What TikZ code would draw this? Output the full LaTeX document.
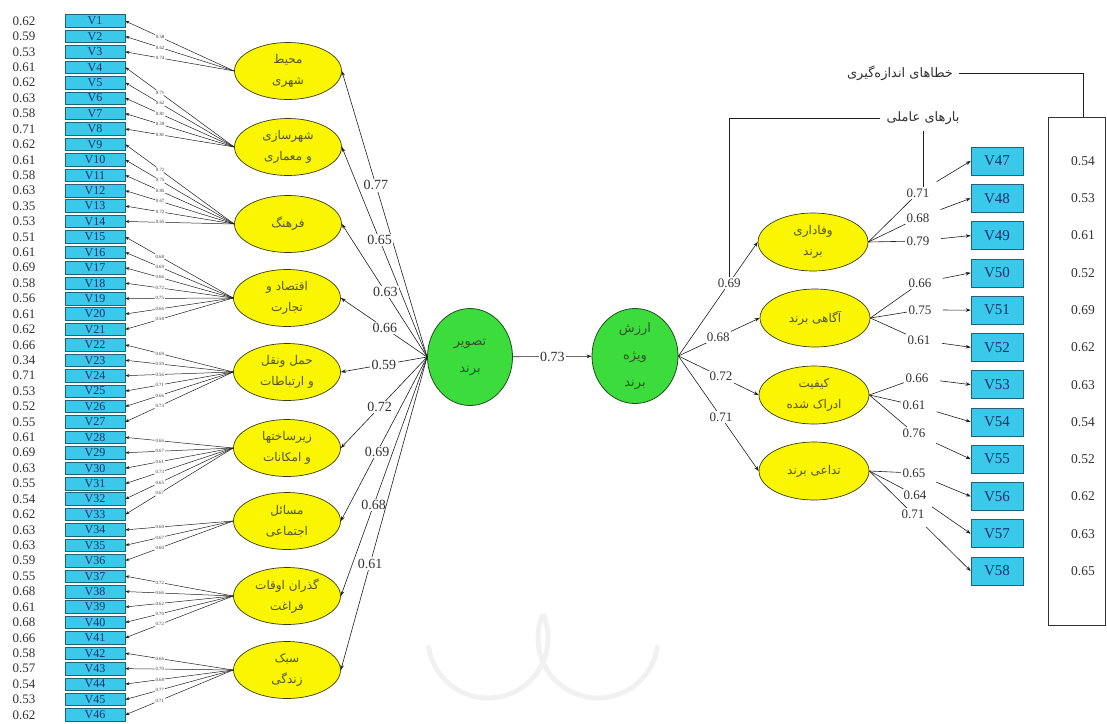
\documentclass[tikz,border=0pt]{standalone}
\usepackage{fontspec}
\setmainfont{Liberation Serif}
\newfontfamily\arabicfont[Script=Arabic]{DejaVu Sans}
\TeXXeTstate=1
\usetikzlibrary{shapes.geometric,arrows.meta,calc}
\newcommand{\fa}[1]{{\arabicfont\beginR #1\endR}}

\definecolor{boxcyan}{RGB}{58,200,235}
\definecolor{boxedge}{RGB}{30,100,120}
\definecolor{boxtext}{RGB}{20,50,110}
\definecolor{yel}{RGB}{250,245,0}
\definecolor{yeledge}{RGB}{60,60,20}
\definecolor{persiantext}{RGB}{85,85,30}
\definecolor{grn}{RGB}{60,220,60}
\definecolor{grnedge}{RGB}{30,80,30}
\definecolor{grntext}{RGB}{40,90,40}
\definecolor{linecol}{RGB}{30,30,30}
\definecolor{numcol}{RGB}{50,50,50}

\begin{document}
\begin{tikzpicture}[x=1pt,y=-1pt,
  ln/.style={draw=linecol, line width=0.6pt},
  arr/.style={ln, -{Stealth[length=5pt,width=3.6pt]}},
  sarr/.style={ln, line width=0.5pt, -{Stealth[length=4pt,width=3pt]}},
  vbox/.style={rectangle, draw=boxedge, fill=boxcyan, line width=0.6pt, minimum width=60, minimum height=12.5, inner sep=0pt, text=boxtext, font=\fontsize{12}{12}\selectfont},
  rbox/.style={vbox, minimum width=52, minimum height=28, font=\fontsize{15}{15}\selectfont},
  lerr/.style={text=numcol, inner sep=0pt, font=\fontsize{13}{13}\selectfont},
  rerr/.style={lerr, font=\fontsize{13.5}{14}\selectfont},
  lodlbl/.style={text=numcol, inner sep=0.8pt, font=\fontsize{4.8}{5}\selectfont},
  fac/.style={ellipse, draw=yeledge, fill=yel, line width=0.7pt, minimum width=107, minimum height=57, inner sep=0pt, align=center, text=persiantext, font=\fontsize{12}{21}\selectfont},
  rfac/.style={fac, minimum width=110, minimum height=58},
  gfac/.style={ellipse, draw=grnedge, fill=grn, line width=0.8pt, minimum width=85, minimum height=97, inner sep=0pt, align=center, text=grntext, font=\fontsize{13}{27}\selectfont},
  clbl/.style={fill=white, inner sep=1.5pt, text=numcol, font=\fontsize{14}{14}\selectfont},
  rlbl/.style={clbl, font=\fontsize{13}{13}\selectfont},
  toplbl/.style={fill=white, inner sep=6pt, text=numcol, font=\fontsize{13}{13}\selectfont},
]
\useasboundingbox (0,0) rectangle (1107,723);

% faint ornament in the lower middle
\begin{scope}[draw=gray!11, line width=5pt]
  \draw (543,614) arc[start angle=-23.6, end angle=173, radius=60];
  \draw (543,614) arc[start angle=203.6, end angle=7, radius=60];
\end{scope}

% observed variables V1--V46 with their error values
\foreach \i/\e in {1/0.62,2/0.59,3/0.53,4/0.61,5/0.62,6/0.63,7/0.58,8/0.71,9/0.62,10/0.61,11/0.58,12/0.63,13/0.35,14/0.53,15/0.51,16/0.61,17/0.69,18/0.58,19/0.56,20/0.61,21/0.62,22/0.66,23/0.34,24/0.71,25/0.53,26/0.52,27/0.55,28/0.61,29/0.69,30/0.63,31/0.55,32/0.54,33/0.62,34/0.63,35/0.63,36/0.59,37/0.55,38/0.68,39/0.61,40/0.68,41/0.66,42/0.58,43/0.57,44/0.54,45/0.53,46/0.62}{
  \node[vbox] (v\i) at (95,{21+(\i-1)*15.42}) {V\i};
  \node[lerr] (le\i) at (24,{21+(\i-1)*15.42}) {\e};
}

% first-order factors of brand image
\node[fac] (f1) at (288,71)  {\fa{محیط}\\\fa{شهری}};
\node[fac] (f2) at (288,147) {\fa{شهرسازی}\\\fa{و معماری}};
\node[fac] (f3) at (288,224) {\fa{فرهنگ}};
\node[fac] (f4) at (287,298) {\fa{اقتصاد و}\\\fa{تجارت}};
\node[fac] (f5) at (287,372) {\fa{حمل ونقل}\\\fa{و ارتباطات}};
\node[fac] (f6) at (287,448) {\fa{زیرساختها}\\\fa{و امکانات}};
\node[fac] (f7) at (287,521) {\fa{مسائل}\\\fa{اجتماعی}};
\node[fac] (f8) at (287,596) {\fa{گذران اوقات}\\\fa{فراغت}};
\node[fac] (f9) at (287,670) {\fa{سبک}\\\fa{زندگی}};

% second-order factors
\node[gfac] (img) at (470,357) {\fa{تصویر}\\\fa{برند}};
\node[gfac, minimum width=86, minimum height=95] (arz) at (635,356) {\fa{ارزش}\\\fa{ویژه}\\\fa{برند}};

% brand equity dimensions
\node[rfac] (r1) at (813,242) {\fa{وفاداری}\\\fa{برند}};
\node[rfac] (r2) at (815,318) {\fa{آگاهی برند}};
\node[rfac] (r3) at (814,395) {\fa{کیفیت}\\\fa{ادراک شده}};
\node[rfac] (r4) at (814,471) {\fa{تداعی برند}};

% observed variables V47--V58 with their error values
\foreach \k/\e in {47/0.54,48/0.53,49/0.61,50/0.52,51/0.69,52/0.62,53/0.63,54/0.54,55/0.52,56/0.62,57/0.63,58/0.65}{
  \node[rbox] (v\k) at (997,{161+(\k-47)*37.27}) {V\k};
  \node[rerr] (re\k) at (1083,{161+(\k-47)*37.27}) {\e};
}

% loadings of V1--V46
\foreach \f/\lst in {1/{1/0.58,2/0.62,3/0.74},
                     2/{4/0.71,5/0.62,6/0.81,7/0.59,8/0.81},
                     3/{9/0.72,10/0.75,11/0.85,12/0.67,13/0.72,14/0.65},
                     4/{15/0.68,16/0.69,17/0.66,18/0.72,19/0.75,20/0.66,21/0.58},
                     5/{22/0.69,23/0.59,24/0.56,25/0.71,26/0.66,27/0.73},
                     6/{28/0.66,29/0.67,30/0.61,31/0.73,32/0.65,33/0.67},
                     7/{34/0.60,35/0.67,36/0.60},
                     8/{37/0.72,38/0.66,39/0.62,40/0.70,41/0.72},
                     9/{42/0.66,43/0.70,44/0.68,45/0.77,46/0.71}}{
  \foreach \v/\w in \lst {
    \node[lodlbl] (t\v) at ($(v\v.east)!0.32!(f\f.west)$) {\w};
    \draw[ln, line width=0.5pt] (f\f.west) -- (t\v);
    \draw[sarr] (t\v) -- (v\v.east);
  }
}

% brand image to its factors
\foreach \i/\w/\p in {1/0.77/0.60,2/0.65/0.557,3/0.63/0.49,4/0.66/0.49,5/0.59/0.5,6/0.72/0.55,7/0.69/0.58,8/0.68/0.62,9/0.61/0.66}{
  \draw[arr] (img.west) -- node[pos=\p, clbl] {\w} (f\i.east);
}

% brand image to brand equity
\draw[arr] (img) -- node[clbl] {0.73} (arz);

% brand equity to its dimensions
\draw[arr] (arz.east) -- node[pos=0.64, rlbl] (c1) {0.69} (r1.west);
\draw[arr] (arz.east) -- node[pos=0.49, rlbl] (c2) {0.68} (r2.west);
\draw[arr] (arz.east) -- node[pos=0.53, rlbl] (c3) {0.72} (r3.west);
\draw[arr] (arz.east) -- node[pos=0.53, rlbl] (c4) {0.71} (r4.west);

% loadings of V47--V58
\foreach \r/\lst in {1/{47/0.71/918/193,48/0.68/918/218,49/0.79/918/241},
                     2/{50/0.66/920/283,51/0.75/920/310,52/0.61/919/340},
                     3/{53/0.66/917/378,54/0.61/914/405,55/0.76/914/433},
                     4/{56/0.65/914/473,57/0.64/915/495,58/0.71/913/514}}{
  \foreach \v/\w/\px/\py in \lst {
    \node[rlbl] (t\v) at (\px,\py) {\w};
    \draw[ln] (r\r.east) -- (t\v);
    \draw[arr, shorten <=10pt] (t\v) -- (v\v.west);
  }
}

% frame round the measurement errors and the callouts
\node[draw=numcol, line width=0.8pt, minimum width=57, minimum height=508, inner sep=0pt] (errbox) at (1076.5,371) {};
\coordinate (errtick) at ($(errbox.north west)!0.61!(errbox.north east)$);
\node[toplbl] (errlabel) at (900,73) {\fa{خطاهای اندازه‌گیری}};
\draw[ln] (errlabel.east) -| (errtick);

\node[toplbl] (loadlabel) at (923,118) {\fa{بارهای عاملی}};
\draw[ln] (loadlabel.west) -| (c1.north);
\draw[ln] (loadlabel.south) -- (loadlabel.south |- t47.north);
\end{tikzpicture}
\end{document}
